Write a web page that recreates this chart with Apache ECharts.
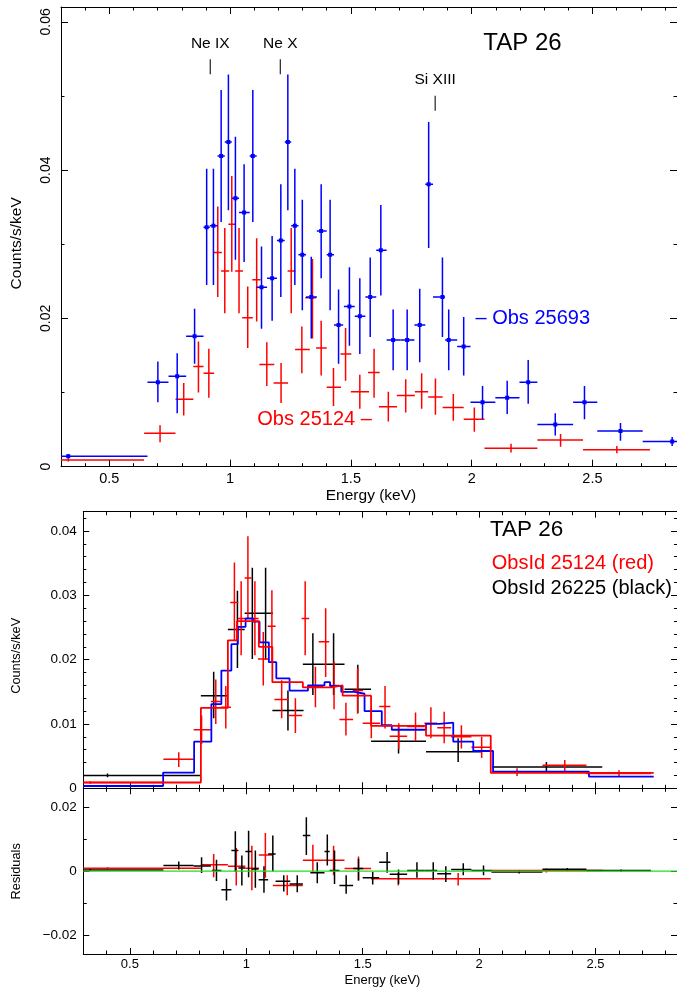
<!DOCTYPE html>
<html>
<head>
<meta charset="utf-8">
<script src="https://cdn.jsdelivr.net/npm/echarts@6/dist/echarts.min.js"></script>
<style>html,body{margin:0;padding:0;background:#fff}#c{width:677px;height:992px}</style>
</head>
<body>
<div id="c"></div>
<script>
// ---------- DATA (each point: [centre keV, low keV, high keV, value, low value, high value]) ----------
const obs25693 = [
[0.33,0.300,0.658,0.0014,0.0011,0.0017],[0.701,0.658,0.745,0.0114,0.0087,0.0142],
[0.781,0.745,0.818,0.0122,0.0072,0.0153],[0.853,0.818,0.890,0.0176,0.0139,0.0213],
[0.903,0.890,0.916,0.0323,0.0245,0.0402],[0.931,0.916,0.948,0.0325,0.0245,0.0402],
[0.963,0.948,0.978,0.0419,0.0330,0.0508],[0.993,0.978,1.007,0.0438,0.0346,0.0529],
[1.022,1.007,1.037,0.0362,0.0279,0.0445],[1.058,1.037,1.081,0.0343,0.0276,0.0408],
[1.094,1.081,1.110,0.0419,0.0330,0.0508],[1.130,1.110,1.153,0.0242,0.0186,0.0297],
[1.174,1.153,1.194,0.0254,0.0197,0.0311],[1.210,1.194,1.226,0.0305,0.0229,0.0381],
[1.239,1.226,1.253,0.0438,0.0346,0.0529],[1.268,1.253,1.283,0.0325,0.0245,0.0402],
[1.299,1.283,1.314,0.0286,0.0211,0.0360],[1.336,1.314,1.359,0.0229,0.0173,0.0283],
[1.377,1.359,1.400,0.0318,0.0254,0.0381],[1.414,1.400,1.430,0.0286,0.0211,0.0360],
[1.449,1.430,1.468,0.0191,0.0139,0.0239],[1.494,1.471,1.516,0.0216,0.0163,0.0269],
[1.537,1.516,1.560,0.0203,0.0152,0.0254],[1.580,1.560,1.605,0.0229,0.0175,0.0282],
[1.624,1.605,1.648,0.0292,0.0231,0.0353],[1.675,1.648,1.705,0.0171,0.0130,0.0212],
[1.733,1.705,1.763,0.0171,0.0130,0.0212],[1.785,1.763,1.808,0.0191,0.0141,0.0240],
[1.822,1.808,1.840,0.0381,0.0295,0.0465],[1.879,1.840,1.890,0.0229,0.0175,0.0282],
[1.905,1.890,1.940,0.0171,0.0130,0.0212],[1.967,1.940,1.995,0.0162,0.0123,0.0202],
[2.045,1.995,2.098,0.0087,0.0064,0.0109],[2.147,2.098,2.198,0.0093,0.0071,0.0116],
[2.234,2.198,2.272,0.0114,0.0085,0.0144],[2.346,2.272,2.420,0.0057,0.0042,0.0072],
[2.467,2.420,2.520,0.0087,0.0064,0.0109],[2.616,2.520,2.708,0.0048,0.0035,0.0059],
[2.830,2.708,2.950,0.0034,0.0028,0.0040]
];
const obs25124 = [
[0.33,0.300,0.644,0.0009,0.0007,0.0011],[0.710,0.644,0.774,0.0045,0.0033,0.0056],
[0.808,0.774,0.848,0.0091,0.0069,0.0113],[0.869,0.848,0.890,0.0135,0.0100,0.0169],
[0.912,0.890,0.934,0.0126,0.0093,0.0159],[0.949,0.931,0.966,0.0289,0.0229,0.0351],
[0.978,0.963,0.996,0.0264,0.0207,0.0322],[1.007,0.993,1.023,0.0327,0.0263,0.0392],
[1.037,1.021,1.053,0.0264,0.0207,0.0322],[1.073,1.050,1.094,0.0201,0.0160,0.0243],
[1.110,1.092,1.126,0.0252,0.0196,0.0308],[1.152,1.121,1.183,0.0138,0.0109,0.0168],
[1.211,1.180,1.240,0.0113,0.0086,0.0140],[1.253,1.238,1.270,0.0264,0.0207,0.0322],
[1.297,1.269,1.330,0.0158,0.0126,0.0189],[1.341,1.311,1.356,0.0228,0.0173,0.0280],
[1.377,1.356,1.400,0.0160,0.0123,0.0197],[1.428,1.400,1.459,0.0107,0.0082,0.0133],
[1.478,1.457,1.502,0.0152,0.0116,0.0187],[1.537,1.500,1.575,0.0101,0.0078,0.0124],
[1.596,1.571,1.619,0.0127,0.0093,0.0159],[1.655,1.616,1.691,0.0081,0.0061,0.0101],
[1.727,1.690,1.765,0.0096,0.0073,0.0118],[1.793,1.765,1.820,0.0101,0.0078,0.0126],
[1.850,1.820,1.880,0.0094,0.0070,0.0119],[1.924,1.880,1.967,0.0080,0.0062,0.0098],
[2.011,1.967,2.053,0.0064,0.0047,0.0080],[2.163,2.053,2.272,0.0025,0.0019,0.0031],
[2.368,2.272,2.461,0.0036,0.0027,0.0044],[2.601,2.461,2.738,0.0023,0.0018,0.0028]
];
const obs26225 = [
[0.404,0.300,0.805,0.0020,0.0017,0.0023],[0.860,0.805,0.921,0.0144,0.0109,0.0181],
[0.962,0.921,0.993,0.0247,0.0187,0.0307],[1.026,0.993,1.055,0.0272,0.0201,0.0343],
[1.083,1.055,1.114,0.0272,0.0200,0.0343],[1.179,1.112,1.246,0.0121,0.0090,0.0152],
[1.286,1.243,1.330,0.0193,0.0145,0.0241],[1.375,1.330,1.422,0.0193,0.0145,0.0241],
[1.479,1.422,1.536,0.0154,0.0117,0.0192],[1.654,1.536,1.772,0.0073,0.0054,0.0098],
[1.910,1.772,2.008,0.0057,0.0041,0.0078],[2.289,2.057,2.529,0.0033,0.0024,0.0041]
];
// model step curves: bin edges and the level in each bin
const blueModelEdges = [0.3,0.643,0.776,0.85,0.893,0.936,0.964,0.997,1.029,1.057,1.097,1.129,1.186,1.265,1.336,1.36,1.408,1.465,1.508,1.582,1.625,1.772,1.829,1.889,1.975,2.06,2.472,2.75];
const blueModelVals  = [0.00036,0.00245,0.00725,0.0131,0.0183,0.0224,0.0251,0.0264,0.0259,0.0227,0.0196,0.0171,0.0152,0.0160,0.0165,0.0159,0.0150,0.0147,0.0120,0.0098,0.0091,0.0100,0.0102,0.00725,0.0058,0.00258,0.0018];
const redModelEdges = [0.3,0.805,0.921,0.96,1.054,1.112,1.243,1.365,1.414,1.536,1.772,2.05,2.75];
const redModelVals  = [0.0009,0.0125,0.0230,0.0260,0.0220,0.0165,0.0157,0.0160,0.0144,0.0097,0.0082,0.0024];
// residuals
const residRed = [
[0.404,0.300,0.805,0.0009,0.0006,0.0012],[0.860,0.805,0.921,0.0020,-0.0019,0.0054],
[0.957,0.921,0.996,0.0015,-0.0045,0.0073],[1.024,0.996,1.054,0.0009,-0.0060,0.0080],
[1.082,1.054,1.114,0.0051,-0.0021,0.0120],[1.176,1.114,1.243,-0.0045,-0.0076,-0.0013],
[1.286,1.243,1.330,0.0034,-0.0003,0.0083],[1.375,1.330,1.422,0.0034,-0.0013,0.0080],
[1.482,1.422,1.536,0.0008,-0.0029,0.0046],[1.653,1.536,1.772,-0.0024,-0.0045,-0.0006],
[1.910,1.772,2.050,-0.0024,-0.0045,-0.0006],[2.289,2.050,2.532,0.0002,-0.0004,0.0008]
];
const residBlack = [
[0.33,0.300,0.644,0.0004,0.0001,0.0007],[0.710,0.644,0.774,0.0018,0.0005,0.0030],
[0.808,0.774,0.848,0.0016,-0.0006,0.0044],[0.872,0.853,0.893,0.0002,-0.0031,0.0036],
[0.915,0.893,0.936,-0.0058,-0.0092,-0.0024],[0.953,0.936,0.966,0.0065,-0.0003,0.0125],
[0.981,0.966,0.996,0.0010,-0.0045,0.0049],[1.010,0.996,1.023,0.0062,-0.0019,0.0127],
[1.039,1.023,1.053,0.0007,-0.0052,0.0065],[1.076,1.053,1.094,-0.0027,-0.0068,0.0015],
[1.114,1.094,1.126,0.0054,-0.0001,0.0112],[1.161,1.126,1.189,-0.0032,-0.0064,-0.0013],
[1.219,1.186,1.243,-0.0040,-0.0066,-0.0013],[1.258,1.243,1.275,0.0112,0.0051,0.0169],
[1.305,1.275,1.336,-0.0005,-0.0038,0.0028],[1.348,1.336,1.358,0.0062,0.0018,0.0115],
[1.379,1.358,1.400,0.0002,-0.0040,0.0065],[1.429,1.400,1.459,-0.0045,-0.0071,-0.0013],
[1.482,1.459,1.502,0.0008,-0.0029,0.0039],[1.543,1.500,1.571,-0.0021,-0.0042,-0.0003],
[1.605,1.571,1.619,0.0028,-0.0005,0.0060],[1.654,1.616,1.691,-0.0010,-0.0040,0.0005],
[1.733,1.691,1.765,0.0002,-0.0021,0.0028],[1.803,1.765,1.820,0.0002,-0.0027,0.0028],
[1.857,1.820,1.880,-0.0008,-0.0034,0.0015],[1.932,1.880,1.967,0.0005,-0.0013,0.0025],
[2.019,1.967,2.053,0.0002,-0.0013,0.0018],[2.172,2.053,2.272,-0.0003,-0.0007,0.0002],
[2.379,2.272,2.461,0.0006,0.0002,0.0010],[2.610,2.461,2.738,0.0002,-0.0002,0.0005]
];
const zeroLine = [[0.3,0],[2.85,0]];
// line identifications: [name, energy keV, label level]
const lineIds = [['Ne IX',0.918,0.0571],['Ne X',1.208,0.0571],['Si XIII',1.849,0.0522]];
// tick values
const xMajor = [0.5,1,1.5,2,2.5];
const yMajorTop = [0,0.02,0.04,0.06];
const yMajorMid = [0,0.01,0.02,0.03,0.04];
const yMajorRes = [-0.02,0,0.02];
const yMinorRes = [-0.02,-0.01,0,0.01,0.02];
const xMinor = []; for (let v = 3; v <= 28; v++) xMinor.push(v / 10);
const yMinorTop = []; for (let v = 0; v <= 6; v++) yMinorTop.push(v / 100);
const yMinorMid = []; for (let v = 0; v <= 21; v++) yMinorMid.push(v * 2 / 1000);

// ---------- CHART ----------
const FONT = 'Liberation Sans, Arial, Helvetica, sans-serif';
const XMIN = 0.3, XMAX = 2.85;

function xAxesFor(gi, labels, fs, margin, maj, min) {
  const base = {gridIndex: gi, type: 'value', min: XMIN, max: XMAX, splitLine: {show: false}};
  const out = [];
  ['bottom', 'top'].forEach(pos => {
    out.push(Object.assign({}, base, {position: pos,
      axisLine: {show: true, onZero: false, lineStyle: {color: '#000', width: 1}},
      axisTick: {show: true, inside: true, length: min, customValues: xMinor, lineStyle: {color: '#000', width: 1}},
      axisLabel: {show: false}}));
    out.push(Object.assign({}, base, {position: pos,
      axisLine: {show: false, onZero: false},
      axisTick: {show: true, inside: true, length: maj, customValues: xMajor, lineStyle: {color: '#000', width: 1}},
      axisLabel: {show: labels && pos === 'bottom', customValues: xMajor, color: '#000', fontSize: fs, fontFamily: FONT, margin: margin}}));
  });
  return out;
}
function yAxesFor(gi, ymin, ymax, minorV, majorV, fs, margin, rotate, maj, min, fmt) {
  const base = {gridIndex: gi, type: 'value', min: ymin, max: ymax, splitLine: {show: false}};
  const out = [];
  ['left', 'right'].forEach(pos => {
    out.push(Object.assign({}, base, {position: pos,
      axisLine: {show: true, onZero: false, lineStyle: {color: '#000', width: 1}},
      axisTick: {show: true, inside: true, length: min, customValues: minorV, lineStyle: {color: '#000', width: 1}},
      axisLabel: {show: false}}));
    out.push(Object.assign({}, base, {position: pos,
      axisLine: {show: false, onZero: false},
      axisTick: {show: true, inside: true, length: maj, customValues: majorV, lineStyle: {color: '#000', width: 1}},
      axisLabel: {show: pos === 'left', customValues: majorV, color: '#000', fontSize: fs, fontFamily: FONT,
                  margin: margin, rotate: rotate, formatter: fmt}}));
  });
  return out;
}
const fmt = v => (v < 0 ? '\u2212' + String(Math.abs(v)) : String(v));

function crosses(gi, data, color, marker, lw) {
  return {
    type: 'custom', xAxisIndex: gi * 4, yAxisIndex: gi * 4, clip: true,
    encode: {x: [0, 1, 2], y: [3, 4, 5]},
    data: data,
    renderItem: function (params, api) {
      const xc = api.value(0), xl = api.value(1), xh = api.value(2);
      const y = api.value(3), yl = api.value(4), yh = api.value(5);
      const a = api.coord([xl, y]), b = api.coord([xh, y]);
      const c = api.coord([xc, yl]), d = api.coord([xc, yh]);
      const st = {stroke: color, lineWidth: lw};
      const ch = [
        {type: 'line', shape: {x1: a[0], y1: a[1], x2: b[0], y2: b[1]}, style: st},
        {type: 'line', shape: {x1: c[0], y1: c[1], x2: d[0], y2: d[1]}, style: st}
      ];
      if (marker) {
        const m = api.coord([xc, y]);
        ch.push({type: 'rect', shape: {x: m[0] - 2, y: m[1] - 2, width: 4, height: 4}, style: {fill: color}});
      }
      return {type: 'group', children: ch};
    }
  };
}
function stepLine(gi, edges, vals, color) {
  const d = edges.map((e, i) => [e, vals[Math.min(i, vals.length - 1)]]);
  return {type: 'line', xAxisIndex: gi * 4, yAxisIndex: gi * 4, step: 'end', data: d, showSymbol: false,
          symbol: 'none', lineStyle: {color: color, width: 1.8}, silent: true, animation: false};
}

const LW = 1.5;
const option = {
  animation: false,
  backgroundColor: '#fff',
  grid: [
    {left: 61, top: 7, right: -3, height: 459.7},
    {left: 83.3, top: 511.7, right: -3, height: 276.6},
    {left: 83.3, top: 788.3, right: -3, height: 165.7}
  ],
  xAxis: [].concat(
    xAxesFor(0, true, 14.5, 5, 7, 3.5),
    xAxesFor(1, false, 13, 4, 6, 3.5),
    xAxesFor(2, true, 13, 4, 6, 3.5)
  ),
  yAxis: [].concat(
    yAxesFor(0, 0, 0.062, yMinorTop, yMajorTop, 14, 8, 90, 7, 3.5, fmt),
    yAxesFor(1, 0, 0.043, yMinorMid, yMajorMid, 13.5, 6.5, 0, 6, 3, fmt),
    yAxesFor(2, -0.026, 0.026, yMinorRes, yMajorRes, 13.5, 6.5, 0, 6, 3.5, fmt)
  ),
  series: [
    crosses(0, obs25124, '#ff0000', false, LW),
    crosses(0, obs25693, '#0000ff', true, LW),
    {
      type: 'custom', xAxisIndex: 0, yAxisIndex: 0, clip: false,
      encode: {x: 1, y: 2},
      data: lineIds,
      renderItem: function (params, api) {
        const p = api.coord([api.value(1), api.value(2)]);
        return {type: 'group', children: [
          {type: 'text', x: p[0], y: p[1], style: {text: lineIds[params.dataIndex][0], fill: '#000',
            font: '15.5px ' + FONT, align: 'center', verticalAlign: 'middle', textAlign: 'center', textVerticalAlign: 'middle'}},
          {type: 'line', shape: {x1: p[0], y1: p[1] + 16, x2: p[0], y2: p[1] + 31}, style: {stroke: '#333', lineWidth: 1.3}}
        ]};
      }
    },
    crosses(1, obs26225, '#000000', false, LW),
    crosses(1, obs25124, '#ff0000', false, LW),
    stepLine(1, blueModelEdges, blueModelVals, '#0000ff'),
    stepLine(1, redModelEdges, redModelVals, '#ff0000'),
    {type: 'line', xAxisIndex: 8, yAxisIndex: 8, data: zeroLine, showSymbol: false, symbol: 'none',
     lineStyle: {color: '#22dd22', width: 1.3}, silent: true},
    crosses(2, residRed, '#ff0000', false, LW),
    crosses(2, residBlack, '#000000', false, LW)
  ],
  graphic: [
    {type: 'text', x: 522.5, y: 43, style: {text: 'TAP 26', fill: '#000', font: '24px ' + FONT, align: 'center', verticalAlign: 'middle'}},
    {type: 'text', x: 475.5, y: 318, style: {text: '\u2013 Obs 25693', fill: '#0000ff', font: '20px ' + FONT, align: 'left', verticalAlign: 'middle'}},
    {type: 'text', x: 257.3, y: 419, style: {text: 'Obs 25124 \u2013', fill: '#ff0000', font: '20px ' + FONT, align: 'left', verticalAlign: 'middle'}},
    {type: 'text', x: 16.7, y: 243.3, rotation: Math.PI / 2, style: {text: 'Counts/s/keV', fill: '#000', font: '15.5px ' + FONT, align: 'center', verticalAlign: 'middle'}},
    {type: 'text', x: 371, y: 496, style: {text: 'Energy (keV)', fill: '#000', font: '15.5px ' + FONT, align: 'center', verticalAlign: 'middle'}},
    {type: 'text', x: 490, y: 530, style: {text: 'TAP 26', fill: '#000', font: '22.5px ' + FONT, align: 'left', verticalAlign: 'middle'}},
    {type: 'text', x: 491.7, y: 563.5, style: {text: 'ObsId 25124 (red)', fill: '#ff0000', font: '20px ' + FONT, align: 'left', verticalAlign: 'middle'}},
    {type: 'text', x: 491.7, y: 588, style: {text: 'ObsId 26225 (black)', fill: '#000', font: '20px ' + FONT, align: 'left', verticalAlign: 'middle'}},
    {type: 'text', x: 16.2, y: 655.8, rotation: Math.PI / 2, style: {text: 'Counts/s/keV', fill: '#000', font: '12.8px ' + FONT, align: 'center', verticalAlign: 'middle'}},
    {type: 'text', x: 16.2, y: 871.3, rotation: Math.PI / 2, style: {text: 'Residuals', fill: '#000', font: '12.8px ' + FONT, align: 'center', verticalAlign: 'middle'}},
    {type: 'text', x: 382.5, y: 980, style: {text: 'Energy (keV)', fill: '#000', font: '13px ' + FONT, align: 'center', verticalAlign: 'middle'}}
  ]
};
const chart = echarts.init(document.getElementById('c'), null, {renderer: 'canvas'});
chart.setOption(option);
</script>
</body>
</html>
